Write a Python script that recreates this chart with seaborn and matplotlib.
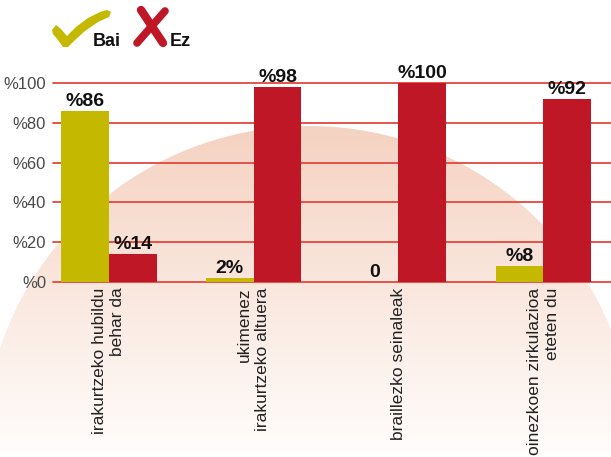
import matplotlib
matplotlib.use("Agg")
import matplotlib.pyplot as plt
import seaborn as sns
import pandas as pd
import numpy as np
from matplotlib.patches import Circle, Polygon

# Survey items and answers (percent)
categories = [
    "irakurtzeko hubildu\nbehar da",
    "ukimenez\nirakurtzeko altuera",
    "braillezko seinaleak",
    "oinezkoen zirkulazioa\neteten du",
]
series = ["Bai", "Ez"]
bai = [86, 2, 0, 8]
ez = [14, 98, 100, 92]
bai_labels = ["%86", "2%", "0", "%8"]
ez_labels = ["%14", "%98", "%100", "%92"]
yticks = [0, 20, 40, 60, 80, 100]
ytick_labels = ["%0", "%20", "%40", "%60", "%80", "%100"]

YELLOW = "#c4b900"
RED = "#c01726"
GRID = "#e4473d"

sns.set_theme(style="white")
plt.rcParams["font.family"] = ["Liberation Sans", "DejaVu Sans"]

W, H = 611, 457
fig = plt.figure(figsize=(W / 100, H / 100), dpi=100)

# Background layer in pixel units: soft pink dome with a vertical fade
bg = fig.add_axes([0, 0, 1, 1], zorder=0)
top_c = np.array([245, 210, 193]) / 255
bot_c = np.array([255, 253, 252]) / 255
t = np.linspace(0, 1, 256)[:, None, None]
grad = top_c + (bot_c - top_c) * t
im = bg.imshow(grad, extent=(0, W, 454, 126), aspect="auto",
               interpolation="bilinear", origin="upper")
dome = Circle((309, 452), 326, transform=bg.transData)
im.set_clip_path(dome)

# Legend glyphs: brush check mark and cross
check = Polygon([(52, 30), (56, 25), (61, 29), (67, 36), (76, 27), (88, 18),
                 (100, 12), (107, 10), (111, 12), (109, 17), (98, 22),
                 (85, 31), (74, 41), (68, 47), (63, 47), (58, 40), (53, 34)],
                closed=True, facecolor=YELLOW, edgecolor="none",
                transform=bg.transData)
bg.add_patch(check)
bg.plot([141, 163], [10, 43], color=RED, lw=6.0, solid_capstyle="round")
bg.plot([165, 137], [11, 43], color=RED, lw=5.5, solid_capstyle="round")
bg.text(93, 46, "Bai", fontsize=13, fontweight="bold", color="#111111",
        va="baseline", ha="left")
bg.text(170, 46, "Ez", fontsize=13, fontweight="bold", color="#111111",
        va="baseline", ha="left")
bg.set_xlim(0, W)
bg.set_ylim(H, 0)
bg.axis("off")

# Main bar chart
left_px, right_px, base_px, top_px = 53, W, 282, 83
ax = fig.add_axes([left_px / W, (H - base_px) / H,
                   (right_px - left_px) / W, (base_px - top_px) / H], zorder=1)
ax.patch.set_alpha(0)

df = pd.DataFrame({
    "item": categories * 2,
    "answer": [series[0]] * len(bai) + [series[1]] * len(ez),
    "value": bai + ez,
})
sns.barplot(data=df, x="item", y="value", hue="answer", hue_order=series,
            palette=[YELLOW, RED], width=0.66, saturation=1, legend=False,
            linewidth=0, edgecolor="none", ax=ax, zorder=3)

for cont, labels in zip(ax.containers, [bai_labels, ez_labels]):
    ax.bar_label(cont, labels=labels, padding=0.5, fontsize=14,
                 fontweight="bold", color="#111111")

ax.set_ylim(0, 100)
ax.set_xlim(-0.385, 3.467)
ax.set_yticks(yticks)
ax.set_yticklabels(ytick_labels, color="#4a4a4a", fontsize=12)
ax.tick_params(axis="y", length=0, pad=5)
ax.set_xticks(range(len(categories)))
ax.set_xticklabels(categories, rotation=90, va="top", ha="center",
                   multialignment="right", linespacing=1.25, fontsize=12.5,
                   color="#222222")
ax.tick_params(axis="x", length=0, pad=4)
ax.yaxis.grid(True, color=GRID, lw=1.3)
for gl in ax.get_ygridlines():
    gl.set_clip_on(False)
ax.xaxis.grid(False)
ax.set_axisbelow(True)
for s in ax.spines.values():
    s.set_visible(False)
ax.set_xlabel("")
ax.set_ylabel("")

fig.savefig("out.png", dpi=100)
